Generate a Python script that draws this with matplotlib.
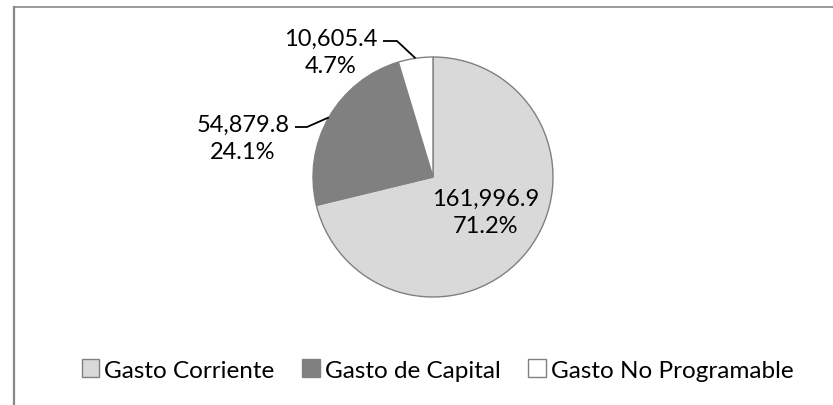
import numpy as np
import matplotlib
matplotlib.use("Agg")
import matplotlib.pyplot as plt
from matplotlib.patches import Patch
from matplotlib.lines import Line2D

plt.rcParams["font.family"] = ["Lato", "DejaVu Sans"]

# data
categories = ["Gasto Corriente", "Gasto de Capital", "Gasto No Programable"]
values = [161996.9, 54879.8, 10605.4]
pct_labels = ["71.2%", "24.1%", "4.7%"]
value_labels = ["161,996.9", "54,879.8", "10,605.4"]

COLORS = ["#D9D9D9", "#808080", "#FFFFFF"]
EDGE = "#808080"
W, H = 833, 406
FS = 17

fig = plt.figure(figsize=(W / 100, H / 100), dpi=100)
ax = fig.add_axes([0, 0, 1, 1])

# pie in pixel units (y measured from the bottom)
cx, cy, R = 433, H - 178, 120
wedges, _ = ax.pie(values, colors=COLORS, startangle=90, counterclock=False,
                   center=(cx, cy), radius=R,
                   wedgeprops=dict(edgecolor=EDGE, linewidth=1))
ax.set_aspect("auto")
ax.set_xlim(0, W)
ax.set_ylim(0, H)
ax.axis("off")

# label inside the big slice
ax.text(486, H - 213, f"{value_labels[0]}\n{pct_labels[0]}", ha="center", va="center",
        fontsize=FS, linespacing=1.38)

# outside labels with leader lines
outside = {1: (243, H - 139, 295, 307, H - 128), 2: (331, H - 53, 383, 397, H - 42)}
for i, (tx, ty, x0, x1, ly) in outside.items():
    w = wedges[i]
    mid = np.deg2rad((w.theta1 + w.theta2) / 2)
    ex, ey = cx + R * np.cos(mid), cy + R * np.sin(mid)
    ax.plot([x0, x1, ex], [ly, ly, ey], color="black", lw=1.3, solid_capstyle="butt")
    ax.text(tx, ty, f"{value_labels[i]}\n{pct_labels[i]}", ha="center", va="center",
            fontsize=FS, linespacing=1.38)

# chart frame (top and left edges visible)
fig.add_artist(Line2D([14 / W, 14 / W], [0, (H - 7.5) / H], color="#878787", lw=1.6,
                      transform=fig.transFigure))
fig.add_artist(Line2D([14 / W, 1], [(H - 7.5) / H, (H - 7.5) / H], color="#878787", lw=1.2,
                      transform=fig.transFigure))

handles = [Patch(facecolor=c, edgecolor=EDGE, linewidth=1) for c in COLORS]
fig.legend(handles, categories, loc="center", bbox_to_anchor=(437.5 / W, (H - 371) / H),
           ncol=3, frameon=False, fontsize=17.5, handlelength=0.72, handleheight=0.72,
           handletextpad=0.2, columnspacing=1.15, borderpad=0)

fig.savefig("out.png", dpi=100)
